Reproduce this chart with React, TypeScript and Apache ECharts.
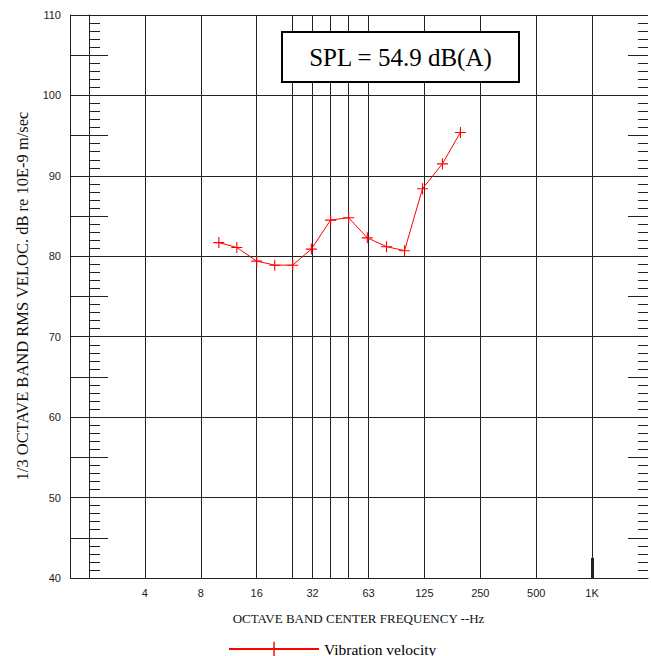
import React, { useEffect, useRef } from "react";
import * as echarts from "echarts";

// ---- data ----
const frequenciesHz = [10, 12.5, 16, 20, 25, 31.5, 40, 50, 63, 80, 100, 125, 160, 200];
const velocityDb = [81.7, 81.1, 79.4, 78.9, 78.9, 80.9, 84.5, 84.8, 82.3, 81.2, 80.7, 88.4, 91.5, 95.4];
const xTickValues = [4, 8, 16, 32, 64, 128, 256, 512, 1024];
const xTickLabels = ["4", "8", "16", "32", "63", "125", "250", "500", "1K"];
const thirdOctaveLines = [25, 40, 50];
const yMin = 40;
const yMax = 110;
const seriesName = "Vibration velocity";
const splText = "SPL = 54.9 dB(A)";
const xTitle = "OCTAVE BAND CENTER FREQUENCY --Hz";
const yTitle = "1/3 OCTAVE BAND RMS VELOC. dB re 10E-9 m/sec";

const LINE = "#222";
const SANS = "'Liberation Sans', Arial, sans-serif";
const SERIF = "'Liberation Serif', 'Times New Roman', serif";

export default function App() {
  const ref = useRef<HTMLDivElement>(null);
  useEffect(() => {
    if (!ref.current) return;
    const chart = echarts.init(ref.current, null, { renderer: "svg" });
    const hidden = { show: false };
    const option: any = {
      animation: false,
      backgroundColor: "#fff",
      grid: { left: 89, right: 3, top: 15, bottom: 78, containLabel: false },
      xAxis: {
        type: "log",
        logBase: 2,
        min: 2,
        max: 2048,
        interval: 1,
        axisLine: { show: true, lineStyle: { color: LINE, width: 1 } },
        axisTick: hidden,
        minorTick: hidden,
        axisLabel: {
          margin: 9,
          color: "#222",
          fontFamily: SANS,
          fontSize: 11,
          showMinLabel: false,
          showMaxLabel: false,
          formatter: (v: number) => {
            const i = xTickValues.indexOf(Math.round(v));
            return i >= 0 ? xTickLabels[i] : "";
          },
        },
        splitLine: { show: true, showMaxLine: false, lineStyle: { color: LINE, width: 1 } },
      },
      yAxis: [
        {
          type: "value",
          min: yMin,
          max: yMax,
          interval: 10,
          position: "left",
          offset: 0,
          axisLine: { show: true, lineStyle: { color: LINE, width: 1 } },
          axisTick: hidden,
          axisLabel: hidden,
          splitLine: { show: true, lineStyle: { color: LINE, width: 1 } },
        },
        {
          type: "value",
          min: yMin,
          max: yMax,
          interval: 1,
          position: "left",
          offset: 0,
          axisLine: hidden,
          axisTick: { show: true, inside: true, length: 11, lineStyle: { color: LINE, width: 1 } },
          axisLabel: hidden,
          splitLine: hidden,
        },
        {
          type: "value",
          min: yMin,
          max: yMax,
          interval: 10,
          position: "left",
          offset: 19,
          axisLine: { show: true, onZero: false, lineStyle: { color: LINE, width: 1 } },
          axisTick: { show: true, inside: true, length: 19, lineStyle: { color: LINE, width: 1 } },
          axisLabel: { show: true, margin: 9, color: "#222", fontFamily: SANS, fontSize: 11 },
          splitLine: hidden,
        },
        {
          type: "value",
          min: yMin,
          max: yMax,
          interval: 5,
          position: "left",
          offset: 19,
          axisLine: hidden,
          axisTick: { show: true, inside: true, length: 38, lineStyle: { color: LINE, width: 1 } },
          axisLabel: hidden,
          splitLine: hidden,
        },
        {
          type: "value",
          min: yMin,
          max: yMax,
          interval: 1,
          position: "right",
          offset: 0,
          axisLine: hidden,
          axisTick: { show: true, inside: true, length: 10, lineStyle: { color: LINE, width: 1 } },
          axisLabel: hidden,
          splitLine: hidden,
        },
        {
          type: "value",
          min: yMin,
          max: yMax,
          interval: 5,
          position: "right",
          offset: 0,
          axisLine: hidden,
          axisTick: { show: true, inside: true, length: 20, lineStyle: { color: LINE, width: 1 } },
          axisLabel: hidden,
          splitLine: hidden,
        },
      ],
      legend: {
        left: 223,
        top: 636,
        padding: 5,
        itemWidth: 90,
        itemHeight: 18,
        itemGap: 10,
        textStyle: { fontFamily: SERIF, fontSize: 15.5, color: "#000" },
        data: [seriesName],
      },
      series: [
        {
          name: seriesName,
          type: "line",
          xAxisIndex: 0,
          yAxisIndex: 0,
          data: frequenciesHz.map((f, i) => [f, velocityDb[i]]),
          symbol: "path://M0,5h11v1.1h-11zM5,0h1.1v11h-1.1z",
          symbolSize: 11,
          itemStyle: { color: "#ff0000" },
          lineStyle: { color: "#ff0000", width: 1 },
          z: 5,
          markLine: {
            silent: true,
            symbol: "none",
            label: { show: false },
            lineStyle: { color: LINE, width: 1, type: "solid" },
            data: [
              ...thirdOctaveLines.map((f) => ({ xAxis: f })),
              [
                { coord: [1024, 40], lineStyle: { color: LINE, width: 3, type: "solid" } },
                { coord: [1024, 42.5] },
              ],
            ],
            z: 1,
          },
        },
      ],
      graphic: [
        {
          type: "rect",
          z: 100,
          shape: { x: 282, y: 32, width: 237, height: 50 },
          style: { fill: "#fff", stroke: "#000", lineWidth: 2 },
        },
        {
          type: "text",
          z: 101,
          x: 400.5,
          y: 57,
          style: {
            text: splText,
            align: "center",
            verticalAlign: "middle",
            font: `25px ${SERIF}`,
            fill: "#000",
          },
        },
        {
          type: "text",
          z: 101,
          x: 358.5,
          y: 618,
          style: {
            text: xTitle,
            align: "center",
            verticalAlign: "middle",
            font: `13px ${SERIF}`,
            fill: "#111",
          },
        },
        {
          type: "text",
          z: 101,
          x: 22,
          y: 296,
          rotation: Math.PI / 2,
          style: {
            text: yTitle,
            align: "center",
            verticalAlign: "middle",
            font: `16.5px ${SERIF}`,
            fill: "#111",
          },
        },
      ],
    };
    chart.setOption(option);
    return () => chart.dispose();
  }, []);
  return <div ref={ref} style={{ width: 651, height: 656, position: "absolute", left: 0, top: 0 }} />;
}
